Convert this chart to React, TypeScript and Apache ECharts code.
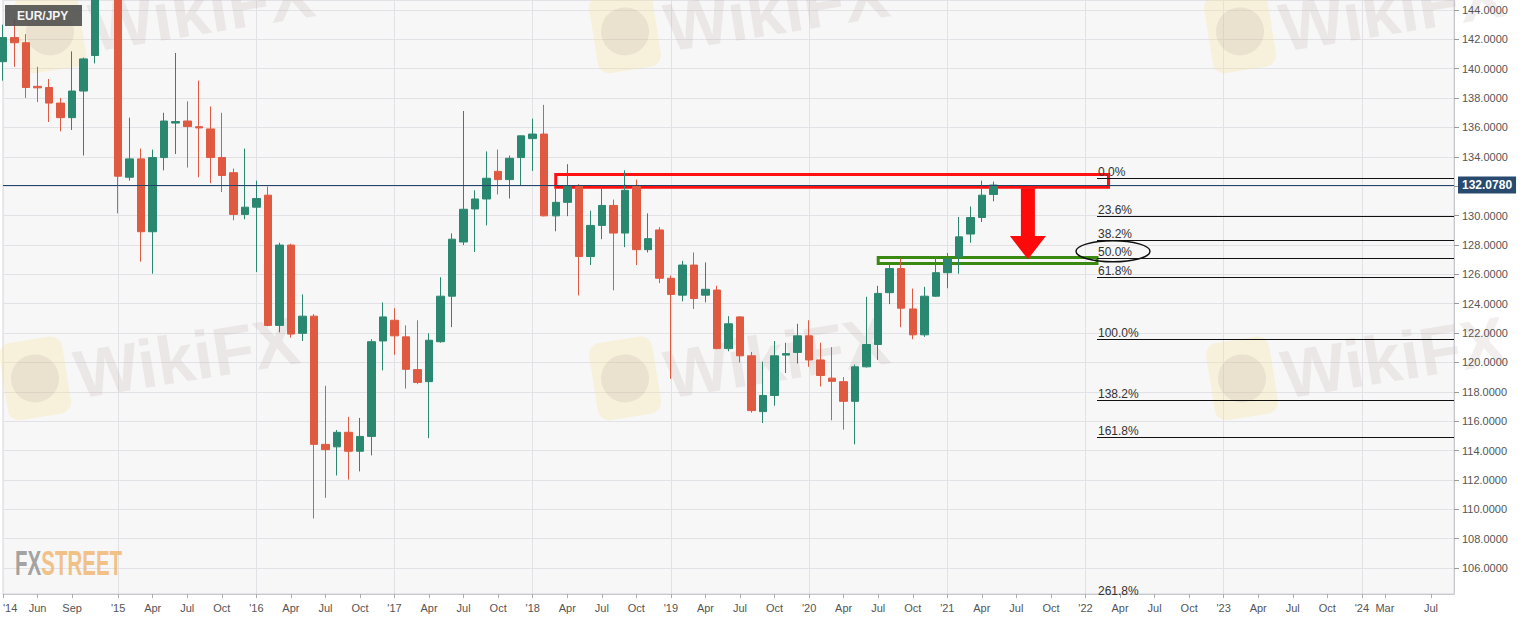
import React, { useRef, useEffect } from 'react';
import * as echarts from 'echarts';

// monthly EUR/JPY, first candle Mar 2014, axis runs to Sep 2024
const startYear = 2014;
const startMonth = 3;
const monthCount = 127;
const monthAbbr = ['Jan', 'Feb', 'Mar', 'Apr', 'May', 'Jun', 'Jul', 'Aug', 'Sep', 'Oct', 'Nov', 'Dec'];

const categories: string[] = [];
for (let i = 0; i < monthCount; i++) {
  const m = startMonth - 1 + i;
  categories.push(`${startYear + Math.floor(m / 12)}-${String((m % 12) + 1).padStart(2, '0')}`);
}

const opens = [
  140.48, 142.12, 141.77, 138.80, 138.72, 137.66, 136.67, 138.48, 140.90, 147.20,
  145.20, 132.61, 133.86, 128.90, 133.95, 136.30, 136.44, 136.05, 135.90, 133.95, 132.92, 130.08,
  130.57, 131.39, 122.52, 127.99, 121.98, 123.15, 114.42, 114.25, 115.24, 113.95, 114.96, 121.46,
  122.87, 121.74, 119.51, 118.69, 121.41, 124.51, 128.20, 130.45, 131.13, 133.01, 132.45, 133.95,
  135.24, 135.55, 129.98, 130.90, 132.03, 127.21, 129.33, 130.69, 128.81, 131.98, 127.68, 129.02,
  125.73, 124.58, 126.63, 124.58, 124.93, 120.94, 123.10, 120.45, 116.65, 117.75, 120.50, 120.68,
  121.81, 120.17, 118.93, 118.69, 117.35, 119.70, 121.22, 124.75, 126.39, 123.64, 121.88, 124.51,
  126.11, 127.21, 128.74, 129.87, 131.44,
];
const closes = [
  142.12, 141.77, 138.72, 138.70, 137.66, 136.67, 138.48, 140.67, 147.20, 145.20,
  132.68, 133.86, 128.90, 133.95, 136.44, 136.40, 136.06, 135.97, 133.95, 132.73, 130.08, 130.57,
  131.16, 122.52, 127.99, 121.93, 123.15, 114.42, 114.06, 115.24, 113.95, 114.96, 121.41, 123.10,
  121.81, 119.53, 118.64, 121.51, 124.51, 128.39, 130.43, 131.13, 132.54, 132.45, 133.90, 135.43,
  135.55, 129.98, 130.90, 132.03, 127.21, 129.33, 130.69, 128.81, 131.72, 127.68, 128.43, 125.73,
  124.63, 126.63, 124.35, 124.98, 120.94, 122.63, 120.45, 116.72, 117.75, 120.45, 120.60, 121.81,
  120.17, 119.11, 118.71, 117.35, 119.70, 121.22, 124.70, 126.39, 123.69, 121.88, 124.51, 126.11,
  127.05, 128.55, 129.87, 131.39, 132.078,
];
const lows = [
  139.19, 140.13, 138.01, 137.73, 136.37, 135.74, 135.83, 134.09, 140.36, 144.90,
  130.15, 132.38, 126.86, 126.04, 133.08, 134.19, 133.27, 132.61, 132.21, 131.60, 129.68, 129.75,
  126.16, 122.45, 122.05, 121.69, 121.46, 109.37, 110.78, 112.30, 112.02, 112.58, 113.67, 119.46,
  120.52, 118.22, 118.52, 114.84, 121.34, 122.40, 127.99, 127.52, 129.33, 131.44, 131.16, 132.03,
  133.04, 129.95, 128.93, 129.96, 124.56, 126.63, 128.39, 124.91, 127.85, 126.63, 127.49, 125.40,
  118.88, 124.16, 123.64, 124.09, 120.90, 120.76, 120.00, 116.58, 115.87, 117.05, 119.28, 119.93,
  119.70, 118.36, 116.06, 115.42, 114.42, 119.65, 120.17, 123.97, 122.40, 121.58, 121.74, 124.47,
  125.05, 126.04, 128.15, 129.56, 130.97,
];
const highs = [
  143.00, 143.41, 142.36, 140.13, 139.30, 138.01, 141.18, 140.76, 149.10, 149.70,
  145.30, 136.67, 134.56, 134.49, 137.00, 141.07, 137.78, 139.19, 137.43, 137.00, 133.20, 134.56,
  132.38, 131.98, 128.15, 128.08, 124.63, 123.29, 118.41, 115.40, 116.29, 116.22, 121.58, 124.09,
  123.69, 122.52, 122.87, 121.98, 125.80, 128.79, 137.12, 131.72, 134.37, 134.49, 134.09, 135.45,
  136.60, 137.54, 131.84, 133.50, 132.14, 130.33, 132.03, 131.09, 133.08, 132.45, 130.15, 129.21,
  125.92, 126.91, 127.49, 126.81, 125.22, 123.15, 123.15, 120.71, 120.05, 121.46, 121.34, 122.63,
  122.87, 121.34, 121.04, 119.00, 119.86, 124.47, 125.22, 126.81, 127.09, 125.03, 125.15, 127.21,
  127.45, 129.91, 130.62, 132.38, 132.31,
];

// x axis labels as shown
const xTickCats = [
  '2014-03', '2014-06', '2014-09',
  '2015-01', '2015-04', '2015-07', '2015-10',
  '2016-01', '2016-04', '2016-07', '2016-10',
  '2017-01', '2017-04', '2017-07', '2017-10',
  '2018-01', '2018-04', '2018-07', '2018-10',
  '2019-01', '2019-04', '2019-07', '2019-10',
  '2020-01', '2020-04', '2020-07', '2020-10',
  '2021-01', '2021-04', '2021-07', '2021-10',
  '2022-01', '2022-04', '2022-07', '2022-10',
  '2023-01', '2023-04', '2023-07', '2023-10',
  '2024-01', '2024-03', '2024-07',
];

const lastPrice = 132.078;

// fibonacci retracement drawn from Feb 2022 to the right edge
const fibStart = '2022-02';
const fibLabels = ['0.0%', '23.6%', '38.2%', '50.0%', '61.8%', '100.0%', '138.2%', '161.8%'];
const fibLevels = [132.54, 129.97, 128.34, 127.09, 125.82, 121.57, 117.44, 114.92];
const fibOffLabel = '261.8%';
const fibOffLevel = 103.82;

// annotation boxes: [from, to, top, bottom]
const redBox = ['2018-03', '2022-03', 132.8, 131.93] as const;
const greenBox = ['2020-07', '2022-02', 127.14, 126.73] as const;

// red arrow
const arrowCat = '2021-08';
const arrowFrom = 131.93;
const arrowHeadBase = 128.61;
const arrowTip = 127.02;

const UP = '#2b8870';
const DOWN = '#df5a41';
const FONT = '"Liberation Sans", Arial, sans-serif';

function watermark(x: number, y: number) {
  return {
    type: 'group',
    x,
    y,
    rotation: 0.16,
    z: 1,
    silent: true,
    children: [
      {
        type: 'rect',
        shape: { x: -72, y: -42, width: 64, height: 78, r: 12 },
        style: { fill: 'rgba(248,224,140,0.26)' },
      },
      {
        type: 'circle',
        shape: { cx: -40, cy: -3, r: 24 },
        style: { fill: 'rgba(150,135,135,0.13)' },
      },
      {
        type: 'text',
        x: 0,
        y: 0,
        style: {
          text: 'WikiFX',
          fontSize: 68,
          fontWeight: 'bold',
          fontFamily: FONT,
          fill: 'rgba(175,150,150,0.16)',
          textVerticalAlign: 'middle',
        },
      },
    ],
  };
}

export default function App() {
  const chartRef = useRef<HTMLDivElement>(null);

  useEffect(() => {
    if (!chartRef.current) return;
    const chart = echarts.init(chartRef.current, null, { renderer: 'svg' });

    const candles = opens.map((o, i) => [o, closes[i], lows[i], highs[i]]);
    const tickSet = new Set(xTickCats);

    const fibLines = fibLevels.map((lvl, i) => [
      {
        coord: [fibStart, lvl],
        lineStyle: { color: '#111', width: 1, type: 'solid' },
        label: {
          show: true,
          position: 'insideStartTop',
          formatter: fibLabels[i],
          color: '#333',
          fontSize: 12,
          fontFamily: FONT,
          distance: [1, 0],
        },
      },
      { coord: [categories[categories.length - 1], lvl] },
    ]);

    const option: any = {
      animation: false,
      backgroundColor: '#ffffff',
      textStyle: { fontFamily: FONT },
      grid: {
        left: 0,
        right: 71,
        top: 0,
        bottom: 26,
        show: true,
        backgroundColor: '#f7f7f7',
        borderColor: '#d4d4dc',
        borderWidth: 1,
      },
      xAxis: {
        type: 'category',
        data: categories,
        boundaryGap: false,
        axisLine: { lineStyle: { color: '#c8c8cc' } },
        axisTick: {
          interval: (_i: number, v: string) => tickSet.has(v),
          length: 4,
          lineStyle: { color: '#aaa' },
        },
        axisLabel: {
          interval: (_i: number, v: string) => tickSet.has(v),
          formatter: (v: string) => {
            const [y, m] = v.split('-');
            if (m === '01' || v === categories[0]) return `'${y.slice(2)}`;
            return monthAbbr[Number(m) - 1];
          },
          color: '#555',
          fontSize: 11,
          margin: 8,
          alignMinLabel: 'left',
        },
        splitLine: {
          show: true,
          interval: (_i: number, v: string) => v.endsWith('-01'),
          lineStyle: { color: '#e2e2e6' },
        },
      },
      yAxis: {
        type: 'value',
        position: 'right',
        scale: true,
        min: 104.23,
        max: 144.68,
        splitNumber: 20,
        axisLine: { show: true, lineStyle: { color: '#c8c8cc' } },
        axisTick: { show: true, length: 5, lineStyle: { color: '#999' } },
        axisLabel: {
          // the 132 label sits under the last-price tag
          formatter: (v: number) => (Math.abs(v - 132) < 0.01 ? '' : v.toFixed(4)),
          color: '#555',
          fontSize: 11,
          margin: 8,
          showMinLabel: false,
          showMaxLabel: false,
        },
        splitLine: { lineStyle: { color: '#e2e2e6' } },
      },
      series: [
        {
          type: 'candlestick',
          data: candles,
          barWidth: 8,
          itemStyle: {
            color: UP,
            color0: DOWN,
            borderColor: UP,
            borderColor0: DOWN,
            borderWidth: 1,
          },
          markArea: {
            silent: true,
            data: [
              [
                {
                  xAxis: redBox[0],
                  yAxis: redBox[2],
                  itemStyle: { color: 'rgba(0,0,0,0)', borderColor: '#ff1111', borderWidth: 3 },
                },
                { xAxis: redBox[1], yAxis: redBox[3] },
              ],
              [
                {
                  xAxis: greenBox[0],
                  yAxis: greenBox[2],
                  itemStyle: { color: 'rgba(0,0,0,0)', borderColor: '#3a8a12', borderWidth: 3 },
                },
                { xAxis: greenBox[1], yAxis: greenBox[3] },
              ],
            ],
          },
          markLine: {
            silent: true,
            symbol: 'none',
            data: [
              {
                yAxis: lastPrice,
                lineStyle: { color: '#23456b', width: 1, type: 'solid' },
                label: {
                  show: true,
                  position: 'end',
                  formatter: lastPrice.toFixed(4),
                  color: '#fff',
                  fontWeight: 'bold',
                  fontSize: 12,
                  backgroundColor: '#284a6f',
                  padding: [3, 4, 2, 4],
                  distance: 4,
                },
              },
              ...fibLines,
            ],
          },
        },
      ],
    };

    chart.setOption(option);

    const px = (cat: string, v: number) =>
      chart.convertToPixel({ gridIndex: 0 }, [cat, v]) as number[];

    const [ax, aTop] = px(arrowCat, arrowFrom);
    const aBase = px(arrowCat, arrowHeadBase)[1];
    const aTip = px(arrowCat, arrowTip)[1];
    const [fx, f50] = px(fibStart, fibLevels[3]);
    const fOff = px(fibStart, fibOffLevel)[1];

    chart.setOption({
      graphic: [
        watermark(90, 28),
        watermark(665, 28),
        watermark(1280, 28),
        watermark(75, 375),
        watermark(665, 375),
        watermark(1282, 375),
        {
          type: 'polygon',
          z: 10,
          silent: true,
          shape: {
            points: [
              [ax - 7, aTop + 1],
              [ax + 7, aTop + 1],
              [ax + 7, aBase],
              [ax + 18, aBase],
              [ax, aTip],
              [ax - 18, aBase],
              [ax - 7, aBase],
            ],
          },
          style: { fill: '#ff0a0a' },
        },
        {
          type: 'ellipse',
          z: 10,
          silent: true,
          shape: { cx: fx + 16, cy: f50 - 7, rx: 37, ry: 10.5 },
          style: { fill: 'none', stroke: '#111', lineWidth: 1.5 },
        },
        {
          type: 'text',
          z: 10,
          x: fx + 1,
          y: fOff - 3,
          style: {
            text: fibOffLabel,
            fontSize: 12,
            fontFamily: FONT,
            fill: '#333',
            textVerticalAlign: 'bottom',
          },
        },
        {
          type: 'rect',
          z: 10,
          shape: { x: 5, y: 5, width: 77, height: 21 },
          style: { fill: 'rgba(75,75,75,0.88)' },
        },
        {
          type: 'text',
          z: 11,
          x: 17,
          y: 16,
          style: {
            text: 'EUR/JPY',
            fontSize: 12,
            fontWeight: 'bold',
            fontFamily: FONT,
            fill: '#f4f4f4',
            textVerticalAlign: 'middle',
          },
        },
        {
          type: 'text',
          z: 3,
          x: 15,
          y: 562,
          scaleX: 0.57,
          style: {
            text: '{a|FX}{b|STREET}',
            textVerticalAlign: 'middle',
            rich: {
              a: { fontSize: 36, fontWeight: 'bold', fontFamily: FONT, fill: 'rgba(140,140,140,0.8)' },
              b: { fontSize: 36, fontWeight: 'bold', fontFamily: FONT, fill: 'rgba(240,175,100,0.75)' },
            },
          },
        },
      ],
    });

    return () => {
      chart.dispose();
    };
  }, []);

  return (
    <div
      ref={chartRef}
      style={{ position: 'fixed', left: 0, top: 0, width: '1525px', height: '620px', background: '#fff' }}
    />
  );
}
